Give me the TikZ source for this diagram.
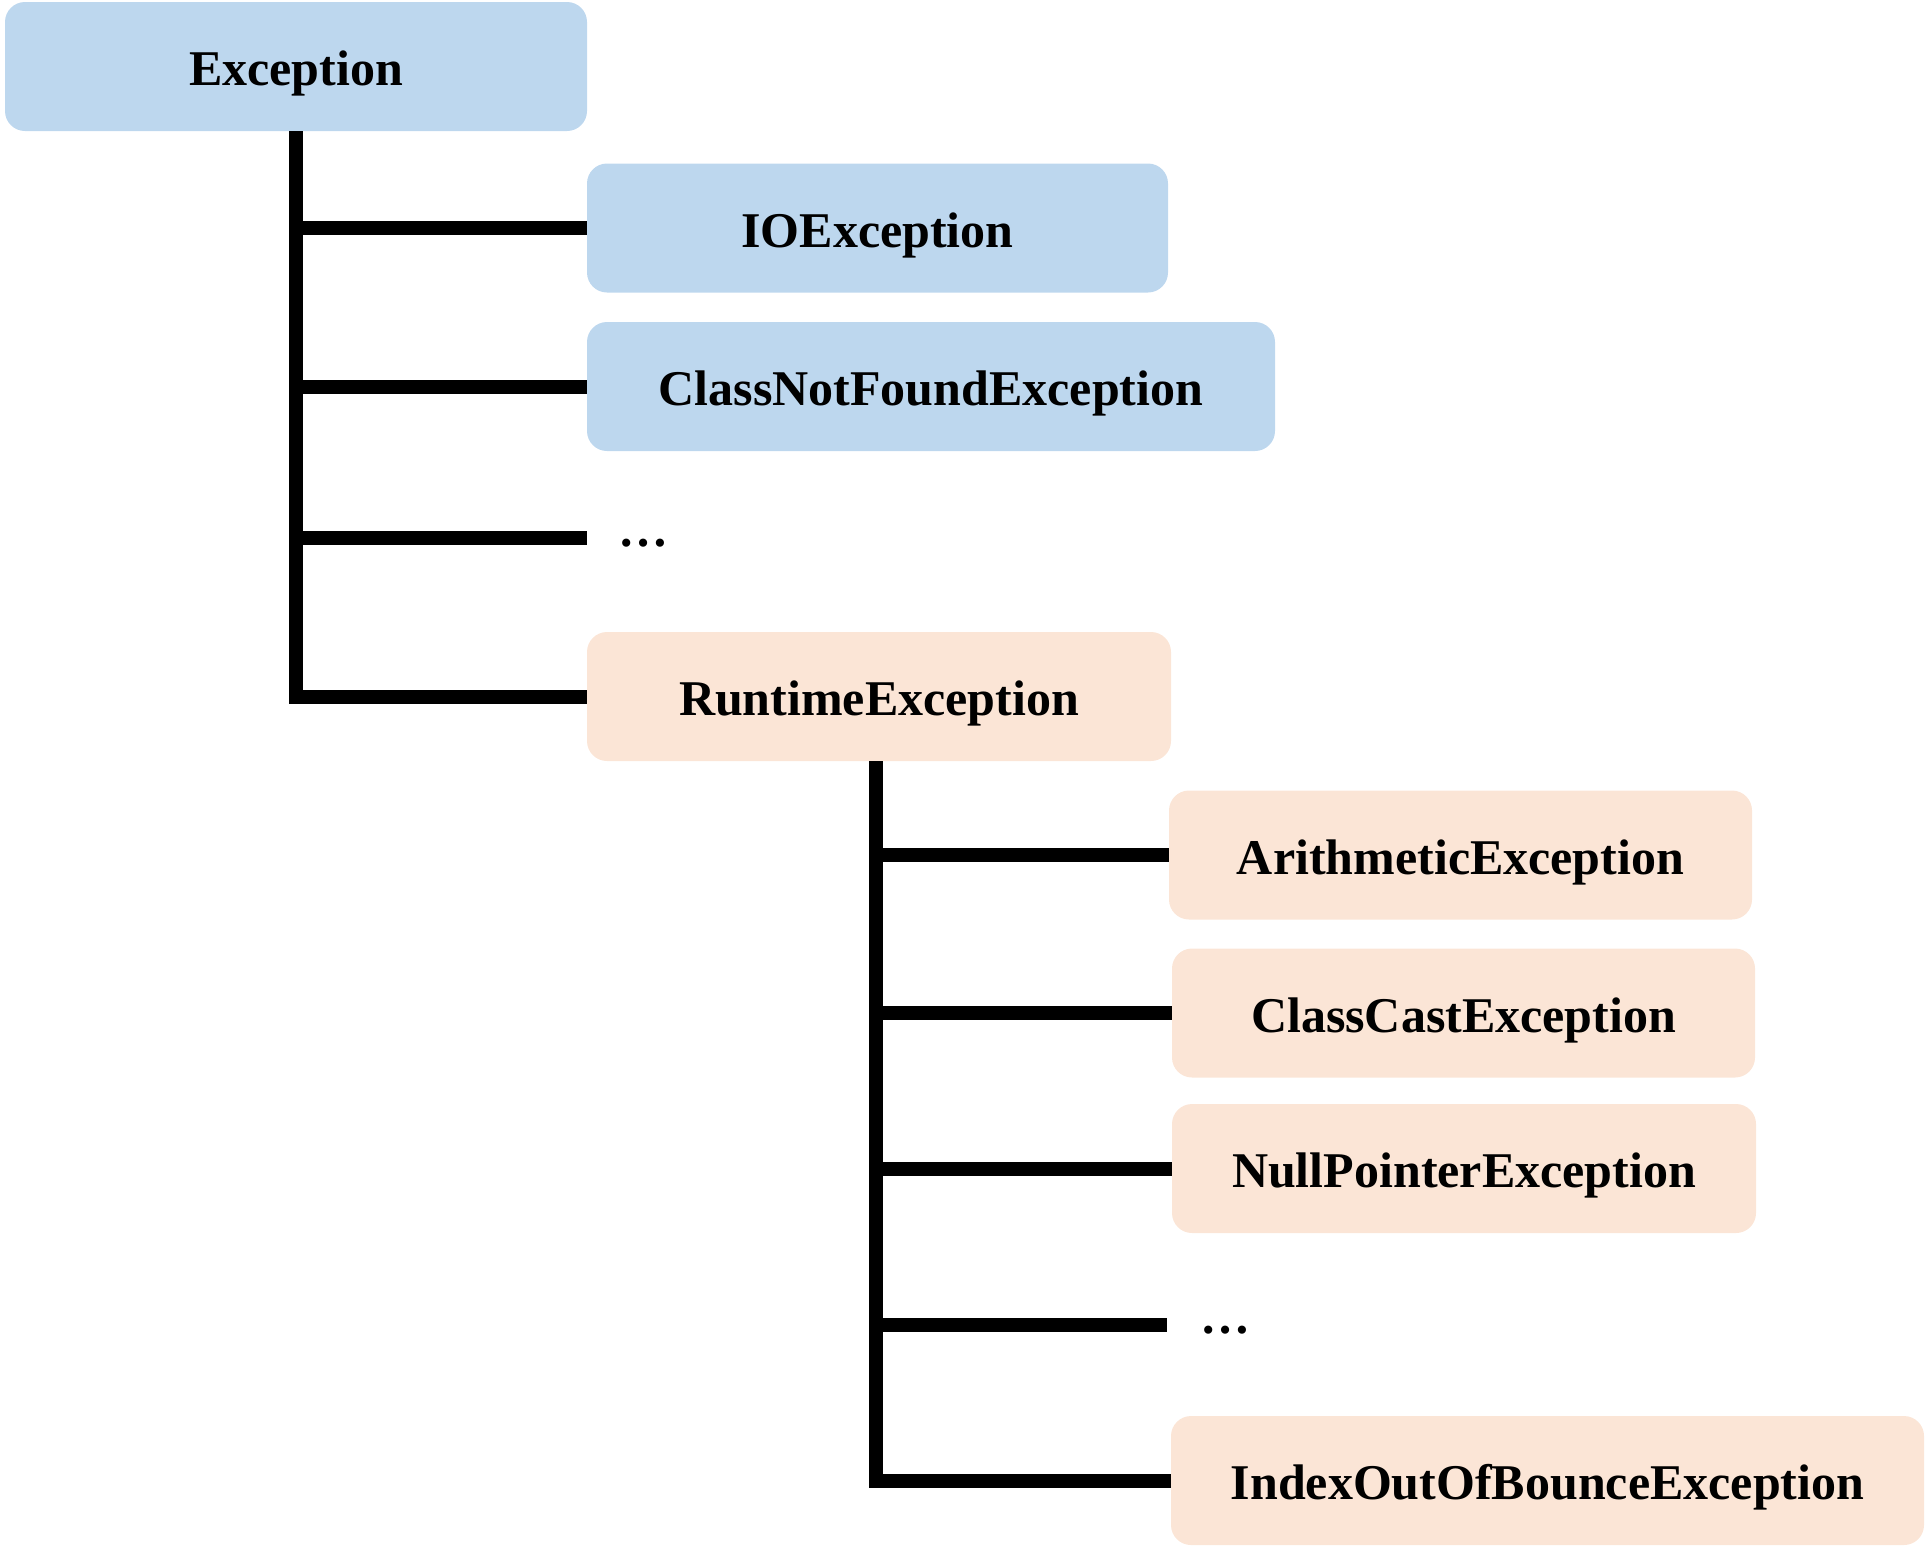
\documentclass[tikz,border=0pt]{standalone}
\usepackage{fontspec}
\setmainfont{Liberation Serif}
\definecolor{boxblue}{HTML}{BDD7EE}
\definecolor{boxpeach}{HTML}{FBE5D6}
\begin{document}
\begin{tikzpicture}[x=0.5pt,y=-0.5pt,
  box/.style={rounded corners=10pt, inner sep=0pt, minimum height=64.5pt,
    text height=30pt, text depth=11pt, align=center,
    font=\fontsize{25}{30}\selectfont\bfseries},
  bluebox/.style={box, fill=boxblue},
  peachbox/.style={box, fill=boxpeach},
  conn/.style={line width=7pt, line join=miter, line cap=butt},
  dotlabel/.style={anchor=base, inner sep=0pt, font=\fontsize{25}{30}\selectfont\bfseries}]
\useasboundingbox (0,0) rectangle (1925,1548);

\node[bluebox, minimum width=291pt] (exc) at (296,66.5) {Exception};
\node[bluebox, minimum width=290.5pt] (io) at (877.5,228) {IOException};
\node[bluebox, minimum width=344pt] (cnf) at (931,386.5) {ClassNotFoundException};
\coordinate (d1) at (587,538);
\node[dotlabel] (dt1) at (643.5,546) {…};
\node[peachbox, minimum width=292pt] (rt) at (879,696.5) {RuntimeException};

\node[peachbox, minimum width=291.5pt] (ar) at (1460.5,855) {ArithmeticException};
\node[peachbox, minimum width=291.5pt] (cc) at (1463.5,1013) {ClassCastException};
\node[peachbox, minimum width=292pt] (np) at (1464,1168.5) {NullPointerException};
\coordinate (d2) at (1167,1325);
\node[dotlabel] (dt2) at (1225.5,1333) {…};
\node[peachbox, minimum width=376.5pt] (idx) at (1547.5,1480.5) {IndexOutOfBounceException};

% first level
\draw[conn] (exc.south) |- (rt.west);
\draw[conn] (exc.south |- io.west) -- (io.west);
\draw[conn] (exc.south |- cnf.west) -- (cnf.west);
\draw[conn] (exc.south |- d1) -- (d1);

% second level
\coordinate (v2) at ([xshift=-1.5pt]rt.south);
\draw[conn] (v2) |- (idx.west);
\draw[conn] (v2 |- ar.west) -- (ar.west);
\draw[conn] (v2 |- cc.west) -- (cc.west);
\draw[conn] (v2 |- np.west) -- (np.west);
\draw[conn] (v2 |- d2) -- (d2);
\end{tikzpicture}
\end{document}
